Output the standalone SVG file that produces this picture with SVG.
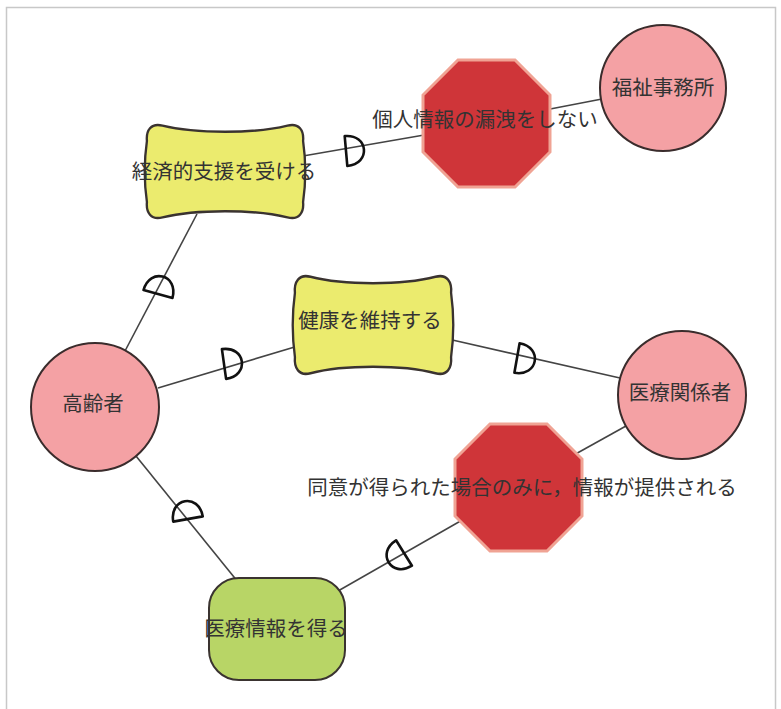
<svg xmlns="http://www.w3.org/2000/svg" xmlns:xlink="http://www.w3.org/1999/xlink" width="781" height="709" viewBox="0 0 781 709">
<style>
.frame{fill:#fff;stroke:#c8c8c8;stroke-width:1.5}
.conn{stroke:#444;stroke-width:1.6;fill:none}
.dep{fill:none;stroke:#111;stroke-width:2.6;stroke-linejoin:round}
.actor{fill:#f4a1a4;stroke:#3a2c2c;stroke-width:2}
.soft{fill:#ebeb6e;stroke:#3a3330;stroke-width:2.4}
.goal{fill:#b8d566;stroke:#3a3330;stroke-width:2}
.oct{fill:#cf3539;stroke:#f0a394;stroke-width:3}
.lbl{font-family:"Noto Sans CJK JP","Noto Sans",sans-serif;font-size:20.5px;fill:#333;text-anchor:middle}
</style>
<defs>
<path id="D" d="M0,-15 C24,-15 24,15 0,15 Z"/>
<path id="pillow" d="M-64,-45 C-30,-37 30,-37 64,-45 C76,-48 81,-40 80,-30 C83,-10 83,10 80,30 C81,40 76,48 64,45 C30,37 -30,37 -64,45 C-76,48 -81,40 -80,30 C-83,10 -83,-10 -80,-30 C-81,-40 -76,-48 -64,-45 Z"/>
</defs>
<rect class="frame" x="6.5" y="7.5" width="769" height="740"/>
<g id="connectors">
<line class="conn" x1="125" y1="351" x2="197" y2="214"/>
<line class="conn" x1="303" y1="156" x2="430" y2="134"/>
<line class="conn" x1="545" y1="110" x2="602" y2="99"/>
<line class="conn" x1="158" y1="388" x2="298" y2="346"/>
<line class="conn" x1="448" y1="339" x2="620" y2="378"/>
<line class="conn" x1="136" y1="456" x2="238" y2="582"/>
<line class="conn" x1="338" y1="591" x2="464" y2="519"/>
<line class="conn" x1="572" y1="456" x2="626" y2="426"/>
<use href="#D" class="dep" transform="translate(158,294) rotate(-75)"/>
<use href="#D" class="dep" transform="translate(346,151) rotate(-5)"/>
<use href="#D" class="dep" transform="translate(224,364) rotate(-8)"/>
<use href="#D" class="dep" transform="translate(517,358) rotate(10)"/>
<use href="#D" class="dep" transform="translate(188,519) rotate(-100)"/>
<use href="#D" class="dep" transform="translate(404,553) rotate(148)"/>
</g>
<g id="keizai">
<use href="#pillow" class="soft" transform="translate(225,171.5) scale(0.976,1.02)"/>
<text class="lbl" x="224" y="178.5">経済的支援を受ける</text>
</g>
<g id="kenkou">
<use href="#pillow" class="soft" transform="translate(373,325) scale(0.976,1.07)"/>
<text class="lbl" x="370" y="328">健康を維持する</text>
</g>
<g id="iryoujouhou">
<rect class="goal" x="209" y="578" width="136" height="102" rx="30"/>
<text class="lbl" x="276" y="636">医療情報を得る</text>
</g>
<g id="koureisha">
<circle class="actor" cx="95" cy="407" r="64"/>
<text class="lbl" x="93" y="411">高齢者</text>
</g>
<g id="fukushi">
<circle class="actor" cx="663" cy="88" r="63"/>
<text class="lbl" x="663" y="95">福祉事務所</text>
</g>
<g id="iryoukankeisha">
<circle class="actor" cx="682" cy="395" r="64"/>
<text class="lbl" x="680" y="400">医療関係者</text>
</g>
<g id="rouei">
<polygon class="oct" points="458,60 515,60 550,95 550,152 515,187 458,187 423,152 423,95"/>
<text class="lbl" x="485" y="126.5">個人情報の漏洩をしない</text>
</g>
<g id="doui">
<polygon class="oct" points="490,424 547,424 582,459 582,516 547,551 490,551 455,516 455,459"/>
<text class="lbl" x="522" y="495">同意が得られた場合のみに，情報が提供される</text>
</g>
</svg>
